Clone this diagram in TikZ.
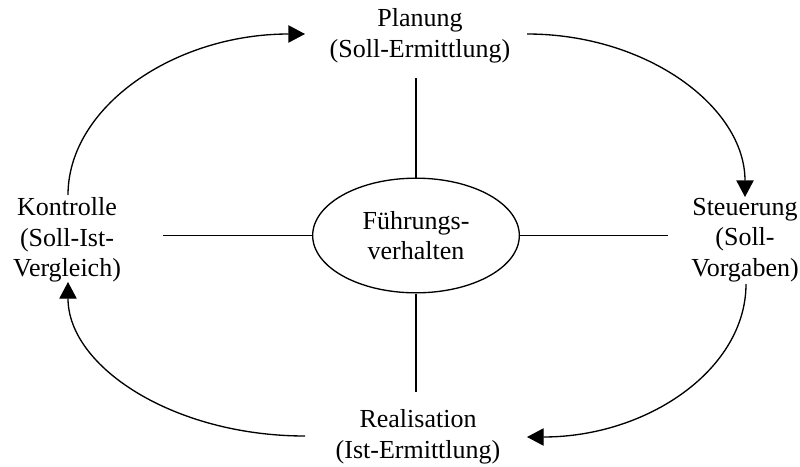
\documentclass[tikz,border=0pt]{standalone}
\usepackage{fontspec}
\setmainfont{Liberation Serif}
\usetikzlibrary{arrows.meta,calc,shapes.geometric}
\begin{document}
\begin{tikzpicture}[x=0.75pt,y=-0.75pt,
  lbl/.style={align=center,inner sep=0pt,font=\fontsize{19.5}{23}\selectfont},
  conn/.style={line width=1pt},
  arr/.style={line width=1pt,-{Triangle[length=12.5pt,width=13pt]}}]
\useasboundingbox (0,0) rectangle (800,467);
\node[lbl] (plan) at (420,36) {Planung\\(Soll-Ermittlung)};
\node[lbl] (kont) at (67,240) {Kontrolle\\(Soll-Ist-\\Vergleich)};
\node[lbl] (steu) at (745,240) {Steuerung\\(Soll-\\Vorgaben)};
\node[lbl] (real) at (418,437) {Realisation\\(Ist-Ermittlung)};
\node[lbl,draw,ellipse,line width=1pt,minimum width=155pt,minimum height=86pt] (fv) at (416,235.5) {Führungs-\\verhalten};
% spokes
\draw[conn] ($(plan)+(-4,42)$) -- (fv.north);
\draw[conn] (fv.south) -- ($(real)+(-2,-45)$);
\draw[conn] ($(kont)+(96,-4.5)$) -- (fv.west);
\draw[conn] (fv.east) -- ($(steu)+(-77,-4.5)$);
% cycle arrows
\draw[arr] ($(kont)+(1,-45)$) .. controls (68,107) and (174,34) .. ($(plan)+(-115,-2)$);
\draw[arr] ($(plan)+(107,-2)$) .. controls (647,34) and (745,107) .. ($(steu)+(0,-43)$);
\draw[arr] ($(steu)+(1,44)$) .. controls (746,369) and (648,437) .. ($(real)+(109,0)$);
\draw[arr] ($(real)+(-113,-1)$) .. controls (174,436) and (68,367) .. ($(kont)+(1,42)$);
\end{tikzpicture}
\end{document}
